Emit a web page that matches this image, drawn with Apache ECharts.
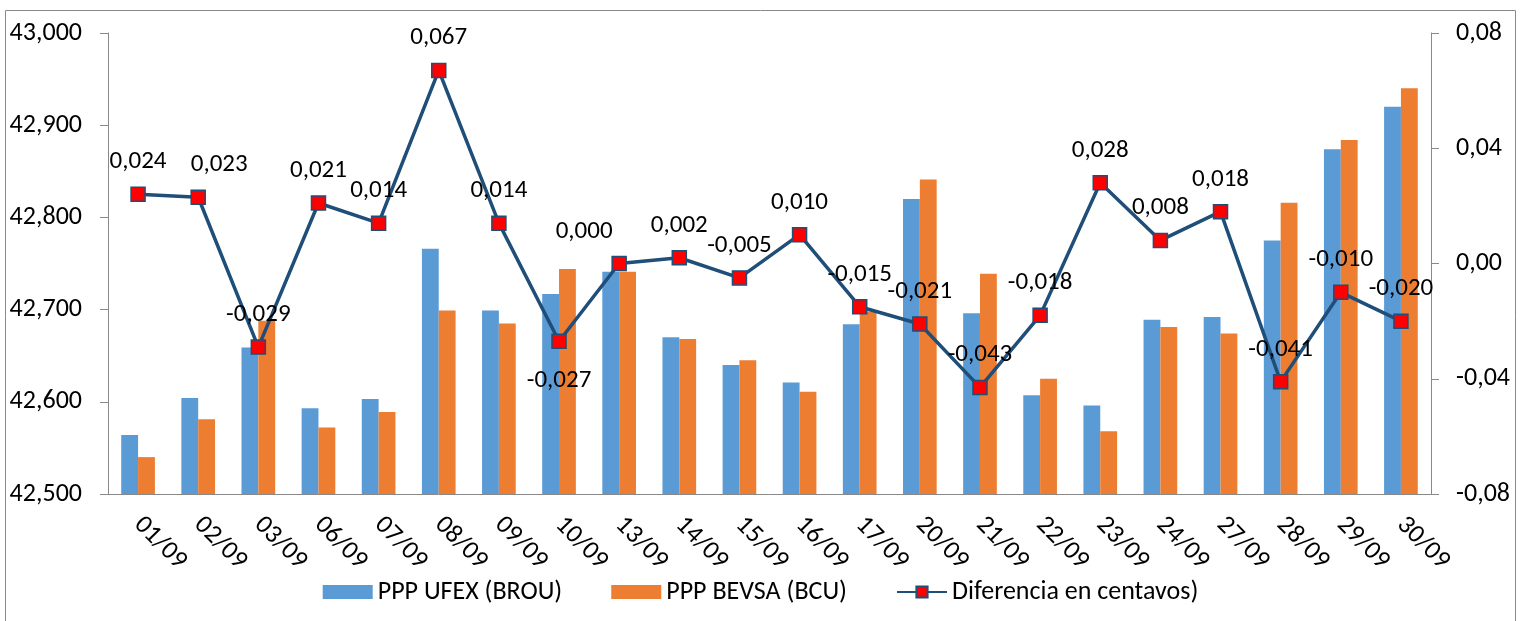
<!DOCTYPE html>
<html>
<head>
<meta charset="utf-8">
<script src="https://cdn.jsdelivr.net/npm/echarts@6/dist/echarts.min.js"></script>
<style>
html,body{margin:0;padding:0;background:#fff;}
#chart{width:1521px;height:621px;}
</style>
</head>
<body>
<div id="chart"></div>
<script>
var categories = ['01/09','02/09','03/09','06/09','07/09','08/09','09/09','10/09','13/09','14/09','15/09','16/09','17/09','20/09','21/09','22/09','23/09','24/09','27/09','28/09','29/09','30/09'];
var ufex = [42564,42604,42659,42593,42603,42766,42699,42717,42741,42670,42640,42621,42684,42820,42696,42607,42596,42689,42692,42775,42874,42920];
var bevsa = [42540,42581,42688,42572,42589,42699,42685,42744,42741,42668,42645,42611,42698,42841,42739,42625,42568,42681,42674,42816,42884,42940];
var diferencia = [0.024,0.023,-0.029,0.021,0.014,0.067,0.014,-0.027,0.000,0.002,-0.005,0.010,-0.015,-0.021,-0.043,-0.018,0.028,0.008,0.018,-0.041,-0.010,-0.020];
var leftTicks = {min:42500, max:43000, interval:100};
var rightTicks = {min:-0.08, max:0.08, interval:0.04};

var FONT = "Carlito, 'Liberation Sans', sans-serif";
var lineData = diferencia.map(function(v, i){
  var d = {value: v};
  if (categories[i] === '10/09') d.label = {position:'bottom', distance:19};
  if (categories[i] === '02/09') d.label = {offset:[21,0]};
  if (categories[i] === '13/09') d.label = {offset:[-35,0]};
  return d;
});

var chart = echarts.init(document.getElementById('chart'));
chart.setOption({
  animation:false,
  textStyle:{fontFamily:FONT},
  graphic:[{type:'rect', shape:{x:5.5,y:10.5,width:1510,height:630}, style:{fill:'none', stroke:'#898989', lineWidth:1}, silent:true}],
  grid:{left:108, right:90, top:33, bottom:127},
  legend:{
    bottom:11, left:'center', itemWidth:50, itemHeight:14, itemGap:49,
    textStyle:{fontSize:26, color:'#000', fontFamily:FONT},
    data:[{name:'PPP UFEX (BROU)', icon:'rect'},{name:'PPP BEVSA (BCU)', icon:'rect'},{name:'Diferencia en centavos)'}]
  },
  xAxis:{
    type:'category', data:categories,
    axisLine:{onZero:false, lineStyle:{color:'#898989', width:1}},
    axisTick:{length:7, lineStyle:{color:'#898989'}},
    axisLabel:{rotate:-45, fontSize:26, color:'#000', margin:27, interval:0, fontFamily:FONT}
  },
  yAxis:[{
    type:'value', min:leftTicks.min, max:leftTicks.max, interval:leftTicks.interval,
    axisLine:{show:true, lineStyle:{color:'#898989'}},
    axisTick:{show:true, length:8, lineStyle:{color:'#898989'}},
    splitLine:{show:false},
    axisLabel:{fontSize:26, color:'#000', margin:26, fontFamily:FONT,
      formatter:function(v){return String(Math.round(v)).replace(/\B(?=(\d{3})+(?!\d))/g, ',');}}
  },{
    type:'value', min:rightTicks.min, max:rightTicks.max, interval:rightTicks.interval,
    axisLine:{show:true, lineStyle:{color:'#898989'}},
    axisTick:{show:true, length:8, lineStyle:{color:'#898989'}},
    splitLine:{show:false},
    axisLabel:{fontSize:26, color:'#000', margin:25, fontFamily:FONT,
      formatter:function(v){var r=Math.round(v*100)/100; if (r===0) r=0; return r.toFixed(2).replace('.',',');}}
  }],
  series:[{
    name:'PPP UFEX (BROU)', type:'bar', data:ufex, barGap:'0%', barCategoryGap:'44%',
    itemStyle:{color:'#5B9BD5'}
  },{
    name:'PPP BEVSA (BCU)', type:'bar', data:bevsa, barGap:'0%', barCategoryGap:'44%',
    itemStyle:{color:'#ED7D31'}
  },{
    name:'Diferencia en centavos)', type:'line', yAxisIndex:1, data:lineData, z:5,
    symbol:'rect', symbolSize:14,
    lineStyle:{color:'#1F4E79', width:3.5},
    itemStyle:{color:'#FF0000', borderColor:'#1F4E79', borderWidth:1.5},
    label:{show:true, position:'top', distance:12, fontSize:25, color:'#000', fontFamily:FONT,
      formatter:function(p){return p.value.toFixed(3).replace('.',',');}}
  }]
});
</script>
</body>
</html>
